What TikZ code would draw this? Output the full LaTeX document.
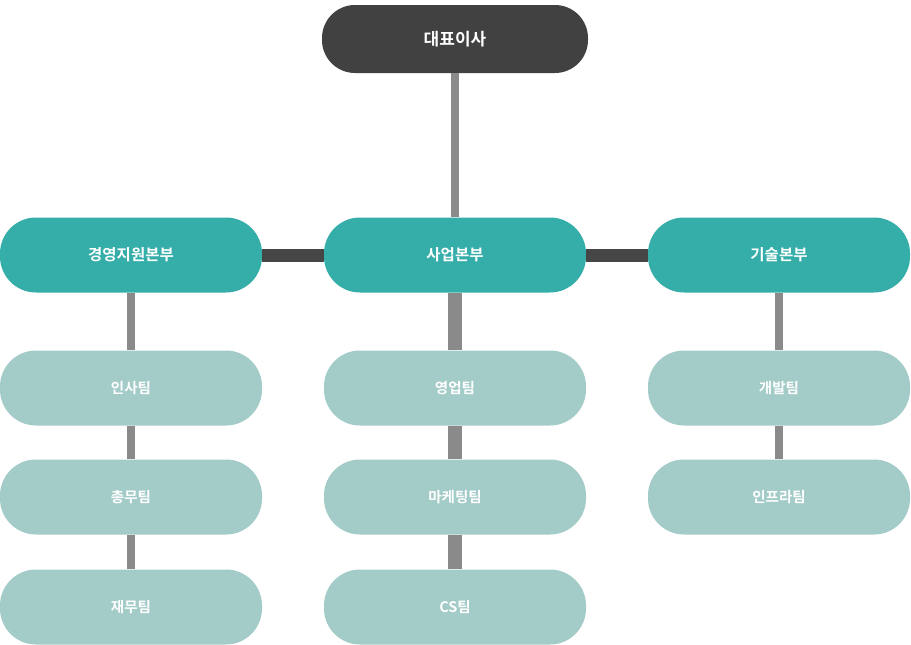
\documentclass[tikz,border=0pt]{standalone}
\usepackage{fontspec}
\setmainfont{Noto Sans CJK KR}[BoldFont={Noto Sans CJK KR Bold}]
\definecolor{ceoc}{HTML}{414141}
\definecolor{divc}{HTML}{35ADA9}
\definecolor{teamc}{HTML}{A3CBC8}
\definecolor{vlinec}{HTML}{8A8A8A}
\definecolor{hlinec}{HTML}{464646}
\tikzset{
  x=1pt, y=-1pt,
  pill/.style={rectangle, rounded corners=36pt, minimum width=262pt, minimum height=75pt,
    inner sep=0pt, text=white, font=\bfseries\fontsize{15.5}{18}\selectfont},
  ceobox/.style={pill, fill=ceoc, minimum width=266pt, minimum height=68pt, rounded corners=33pt,
    font=\bfseries\fontsize{17}{20}\selectfont},
  divbox/.style={pill, fill=divc},
  teambox/.style={pill, fill=teamc, font=\bfseries\fontsize{14.5}{17}\selectfont},
  vthin/.style={draw=vlinec, line width=8pt},
  vthick/.style={draw=vlinec, line width=14pt},
  hbar/.style={draw=hlinec, line width=13pt},
}
\begin{document}
\begin{tikzpicture}
\useasboundingbox (0,0) rectangle (911,645);
\node[ceobox] (ceo) at (455,39) {대표이사};
\node[divbox] (d1) at (131,255) {경영지원본부};
\node[divbox] (d2) at (455,255) {사업본부};
\node[divbox] (d3) at (779,255) {기술본부};
\node[teambox] (t11) at (131,388) {인사팀};
\node[teambox] (t12) at (131,497) {총무팀};
\node[teambox] (t13) at (131,607) {재무팀};
\node[teambox] (t21) at (455,388) {영업팀};
\node[teambox] (t22) at (455,497) {마케팅팀};
\node[teambox] (t23) at (455,607) {CS팀};
\node[teambox] (t31) at (779,388) {개발팀};
\node[teambox] (t32) at (779,497) {인프라팀};
% edges
\draw[vthin] (ceo.south) -- (d2.north);
\draw[hbar] (d1.east) -- (d2.west);
\draw[hbar] (d2.east) -- (d3.west);
\draw[vthin] (d1.south) -- (t11.north);
\draw[vthin] (t11.south) -- (t12.north);
\draw[vthin] (t12.south) -- (t13.north);
\draw[vthick] (d2.south) -- (t21.north);
\draw[vthick] (t21.south) -- (t22.north);
\draw[vthick] (t22.south) -- (t23.north);
\draw[vthin] (d3.south) -- (t31.north);
\draw[vthin] (t31.south) -- (t32.north);
\end{tikzpicture}
\end{document}
